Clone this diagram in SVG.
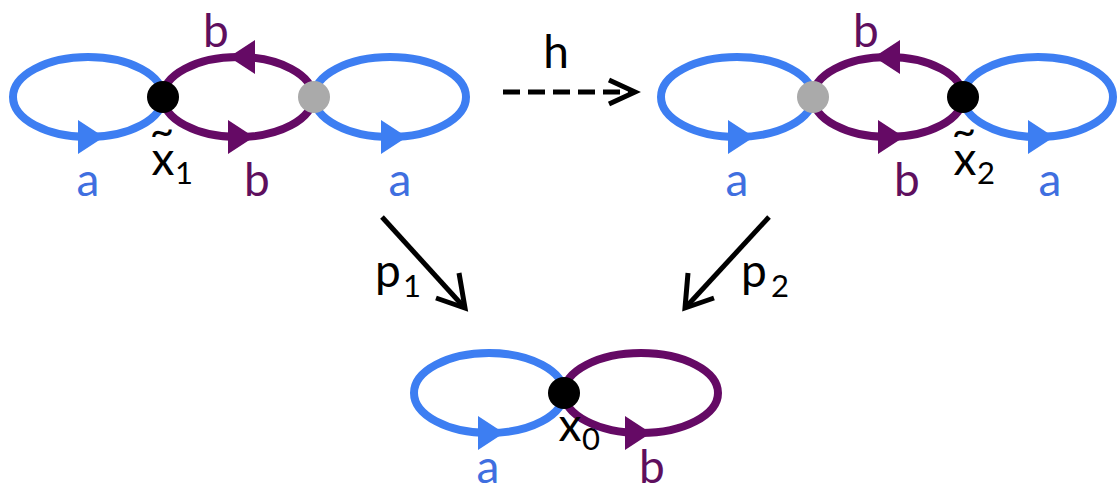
<svg xmlns="http://www.w3.org/2000/svg" xmlns:xlink="http://www.w3.org/1999/xlink" width="1117" height="491" viewBox="0 0 1117 491">
<style>
.bl{fill:none;stroke:#3d7ef2;stroke-width:8}
.pu{fill:none;stroke:#650a65;stroke-width:8}
.tb{fill:#3d7ef2}
.tp{fill:#650a65}
.lbl{font-family:Lato,"Open Sans","Liberation Sans",sans-serif;font-size:46px;text-anchor:middle}
.la{fill:#3f6fe0}
.lb{fill:#5e0f5e}
.lk{fill:#000}
.sub{font-size:31px}
.til{font-size:42px}
.arr{fill:none;stroke:#000;stroke-width:5;stroke-linecap:butt}
.blk{fill:#000}
.gry{fill:#aaaaaa}
</style>
<defs>
<path id="tri" d="M-12,-17 L14,0 L-12,17 Z"/>
</defs>
<rect width="1117" height="491" fill="#fff"/>

<g id="graph1">
<ellipse class="bl" cx="88" cy="97" rx="75" ry="40"/>
<ellipse class="pu" cx="238" cy="97" rx="75" ry="40"/>
<ellipse class="bl" cx="390" cy="97" rx="76" ry="40"/>
<use xlink:href="#tri" class="tb" transform="translate(90,137)"/>
<use xlink:href="#tri" class="tp" transform="translate(243,57) rotate(180)"/>
<use xlink:href="#tri" class="tp" transform="translate(240,137)"/>
<use xlink:href="#tri" class="tb" transform="translate(393,137)"/>
<circle id="x1" class="blk" cx="163" cy="97" r="16"/>
<circle class="gry" cx="314" cy="97" r="16"/>
<text class="lbl lb" x="216" y="47">b</text>
<text class="lbl la" x="88" y="196">a</text>
<text class="lbl lb" x="257" y="196">b</text>
<text class="lbl la" x="400" y="196">a</text>
<text class="lbl lk"><tspan class="til" x="162" y="146">~</tspan><tspan x="163" y="175">x</tspan><tspan class="sub" x="184" y="184">1</tspan></text>
</g>

<g id="graph2">
<ellipse class="bl" cx="737" cy="97" rx="76" ry="40"/>
<ellipse class="pu" cx="888" cy="97" rx="75" ry="40"/>
<ellipse class="bl" cx="1038" cy="97" rx="75" ry="40"/>
<use xlink:href="#tri" class="tb" transform="translate(740,137)"/>
<use xlink:href="#tri" class="tp" transform="translate(888,57) rotate(180)"/>
<use xlink:href="#tri" class="tp" transform="translate(890,137)"/>
<use xlink:href="#tri" class="tb" transform="translate(1040,137)"/>
<circle class="gry" cx="813" cy="97" r="16"/>
<circle id="x2" class="blk" cx="963" cy="97" r="16"/>
<text class="lbl lb" x="866" y="47">b</text>
<text class="lbl la" x="737" y="196">a</text>
<text class="lbl lb" x="907" y="196">b</text>
<text class="lbl la" x="1050" y="196">a</text>
<text class="lbl lk"><tspan class="til" x="964" y="146">~</tspan><tspan x="965" y="175">x</tspan><tspan class="sub" x="986" y="184">2</tspan></text>
</g>

<g id="graph0">
<ellipse class="bl" cx="489" cy="393" rx="75" ry="40"/>
<ellipse class="pu" cx="641" cy="393" rx="77" ry="40"/>
<use xlink:href="#tri" class="tb" transform="translate(490,433)"/>
<use xlink:href="#tri" class="tp" transform="translate(637,433)"/>
<circle id="x0" class="blk" cx="564" cy="393" r="16"/>
<text class="lbl lk" x="570" y="441">x</text>
<text class="lbl lk sub" x="591" y="450">0</text>
<text class="lbl la" x="488" y="483">a</text>
<text class="lbl lb" x="652" y="483">b</text>
</g>

<g id="connectors">
<line class="arr" x1="503" y1="92" x2="631" y2="92" stroke-dasharray="17,8"/>
<polyline class="arr" points="609,80 635,92 609,104"/>
<text class="lbl lk" x="556" y="68">h</text>
<line class="arr" x1="382" y1="217" x2="463" y2="306"/>
<polyline class="arr" points="436,298 465,308 459,273"/>
<text class="lbl lk" x="388" y="287">p</text>
<text class="lbl lk sub" x="412" y="297">1</text>
<line class="arr" x1="769" y1="217" x2="687" y2="306"/>
<polyline class="arr" points="688,273 685,308 714,298"/>
<text class="lbl lk" x="754" y="287">p</text>
<text class="lbl lk sub" x="780" y="297">2</text>
</g>
</svg>
